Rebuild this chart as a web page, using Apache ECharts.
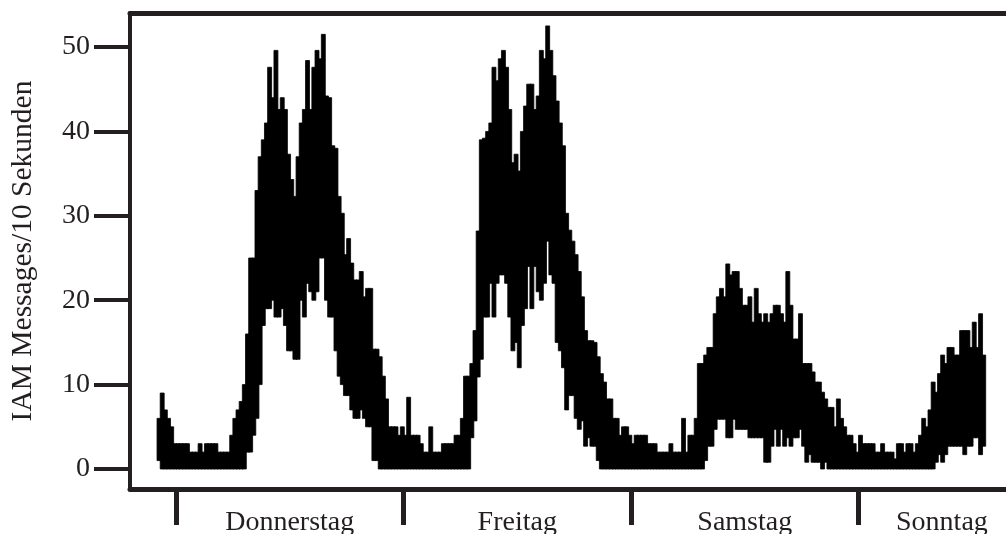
<!DOCTYPE html>
<html>
<head>
<meta charset="utf-8">
<script src="https://cdn.jsdelivr.net/npm/echarts@6/dist/echarts.min.js"></script>
<style>
html,body{margin:0;padding:0;background:#fff;}
#chart{width:1006px;height:534px;}
</style>
</head>
<body>
<div id="chart"></div>
<script>
// Time bins: 20-minute bins, hours relative to Thursday 00:00
const binHours = 1 / 3;
const startHour = -2;

// Upper envelope (max messages per 10 s within each bin)
const maxVals = [
  6,9,7,6,5,3,3,3,3,3,
  2,2,2,3,2,3,3,3,3,2,
  2,2,2,4,6,7,8,10,16,25,
  25,33,37,39,41,47.6,44,49.6,42.6,44,
  42.6,37.3,34.3,32.3,37,41,42.6,48.4,42.6,47.6,
  49.6,48.6,51.5,44.2,44,38.3,38,32.3,30.3,25.4,
  27.3,24.4,22.4,22.4,23.4,20.4,21.4,21.4,14.2,14.2,
  13.3,11,8.3,5,5,5,4,5,4,8.5,
  4,4,4,3,2,2,5,2,2,2,
  3,3,3,3,4,4,6,11,11,12.5,
  16.4,28.2,39,39.2,40,41,47.6,46,48.6,49.6,
  47.6,42.6,36.3,37.3,35.3,40,43,45.6,45.6,42.6,
  44.2,49.6,48.6,52.5,49.6,46.6,43.6,41,38.3,30.3,
  28.3,27,25.4,23.4,20.4,16.4,15.2,15.2,15,13.3,
  11.3,10.3,8.3,8.3,6,6,4,5,5,4,
  3,4,4,4,4,3,3,3,2,2,
  2,2,3,2,2,2,6,2,4,4,
  6,12.5,12.5,13.5,14.4,14.4,18.4,20.4,21.4,20.4,
  24.3,23,23.4,23.4,21.4,19.4,19.4,20.4,17.4,21.4,
  18.4,17.4,18.4,17.4,18.4,19.4,19.4,18.4,17.4,23.4,
  19.4,15.4,15.4,18.4,12.5,12.5,12.5,11.5,10.3,10.3,
  9.1,8.3,7.3,7.3,5,8.3,6,5,4,4,
  3,2,4,3,3,3,3,2,2,3,
  2,2,2,1.2,3,3,2,3,3,2,
  3,4,6,5,7,10.3,9.1,11.3,13.5,12.5,
  14.4,14.4,13.5,13.5,16.4,16.4,16.4,14.4,17.4,14.4,
  18.4,13.5
];

// Lower envelope (min messages per 10 s within each bin)
const minVals = [
  1,0,0,0,0,0,0,0,0,0,
  0,0,0,0,0,0,0,0,0,0,
  0,0,0,0,0,0,0,0,2,2,
  4,6,10,17,19,19,20,18,18,19,
  17,14,14,13,13,20,18,22,21,20,
  21,25,25,20,18,18,14,11,10,8.7,
  8.7,7,6,6,7,6,5,5,1,1,
  0,0,0,0,0,0,0,0,0,0,
  0,0,0,0,0,0,0,0,0,0,
  0,0,0,0,0,0,0,0,0,3.7,
  5.7,10.9,13,18,18,22,18,22,23,23,
  22,18,14,15,12,17,19,24,19,24,
  21,20,22,27,23,22,15,14,12,7,
  8.7,8.7,6,4.7,5.7,2.7,3.7,2.7,2.7,1,
  0,0,0,0,0,0,0,0,0,0,
  0,0,0,0,0,0,0,0,0,0,
  0,0,0,0,0,0,0,0,0,0,
  0,0,0,1,2.7,2.7,4.7,5.9,5.9,5.9,
  3.7,3.7,5.9,4.7,4.7,4.7,4.7,3.7,3.7,3.7,
  3.7,3.7,0.8,0.8,2.7,4.7,2.7,4.7,2.7,3.7,
  2.7,3.7,3.7,4.7,2.7,0.8,1.7,0.8,0.8,0.8,
  0,0.8,0,0,0,0,0,0,0,0,
  0,0,0,0,0,0,0,0,0,0,
  0,0,0,0,0,0,0,0,0,0,
  0,0,0,0,0,0,0.8,1.7,0.8,1.7,
  2.7,2.7,2.7,2.7,2.7,1.7,2.7,2.7,3.7,3.7,
  1.7,2.7
];

const dayNames = ['Donnerstag', 'Freitag', 'Samstag', 'Sonntag'];
const dayBoundaries = [0, 24, 48, 72];
const dayLabelPos = [12, 36, 60, 80.8];
const yTicks = [0, 10, 20, 30, 40, 50];

const FONT = "'Liberation Serif', 'Times New Roman', serif";
const AX = '#231f20';

const data = maxVals.map((hi, i) => [startHour + i * binHours, minVals[i], hi]);

const chart = echarts.init(document.getElementById('chart'), null, {renderer: 'canvas'});
const xMin = -4.853, xMax = 87.56;
chart.setOption({
  animation: false,
  backgroundColor: '#ffffff',
  grid: {left: 130, right: 0, top: 13, bottom: 45, containLabel: false, outerBoundsMode: 'none'},
  xAxis: [{
    type: 'value', min: xMin, max: xMax, position: 'bottom',
    axisLine: {show: true, onZero: false, lineStyle: {color: AX, width: 5}},
    axisTick: {show: true, customValues: dayBoundaries, length: 36, lineStyle: {color: AX, width: 5}},
    axisLabel: {
      customValues: dayLabelPos, margin: 20,
      fontFamily: FONT, fontSize: 28, color: AX,
      formatter: function (v) {
        let best = 0;
        dayLabelPos.forEach((p, k) => { if (Math.abs(p - v) < Math.abs(dayLabelPos[best] - v)) best = k; });
        return dayNames[best];
      }
    },
    splitLine: {show: false}
  }, {
    type: 'value', min: xMin, max: xMax, position: 'top',
    axisLine: {show: true, onZero: false, lineStyle: {color: AX, width: 5}},
    axisTick: {show: false}, axisLabel: {show: false}, splitLine: {show: false}
  }],
  yAxis: {
    type: 'value', min: -2.37, max: 54.03,
    axisLine: {show: true, onZero: false, lineStyle: {color: AX, width: 4}},
    axisTick: {show: true, customValues: yTicks, length: 36, lineStyle: {color: AX, width: 4}},
    axisLabel: {customValues: yTicks, margin: 40, fontFamily: FONT, fontSize: 28, color: AX},
    splitLine: {show: false},
    name: 'IAM Messages/10 Sekunden',
    nameLocation: 'middle', nameGap: 92,
    nameTextStyle: {fontFamily: FONT, fontSize: 29.5, color: AX}
  },
  series: [{
    type: 'custom',
    xAxisIndex: 0,
    data: data,
    clip: true,
    renderItem: function (params, api) {
      const t = api.value(0), lo = api.value(1), hi = api.value(2);
      const p1 = api.coord([t, hi]);
      const p2 = api.coord([t + binHours, lo]);
      return {
        type: 'rect',
        shape: {x: p1[0], y: p1[1], width: p2[0] - p1[0] + 0.8, height: p2[1] - p1[1]},
        style: {fill: '#000000', stroke: '#000000', lineWidth: 0.8}
      };
    }
  }]
});
</script>
</body>
</html>
